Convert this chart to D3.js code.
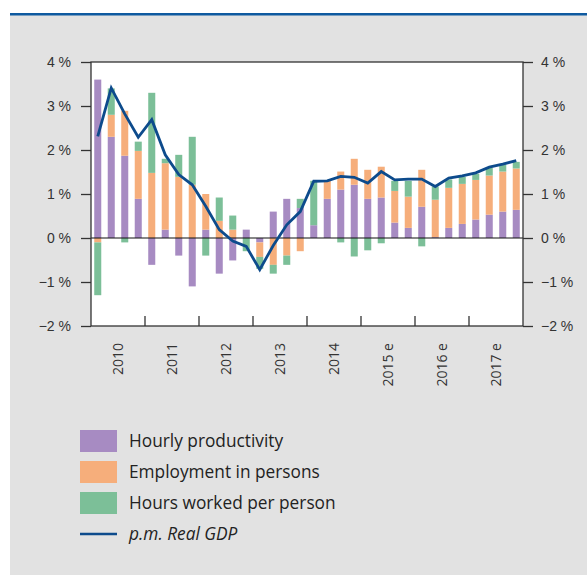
<!DOCTYPE html>
<html>
<head>
<meta charset="utf-8">
<script src="https://cdn.jsdelivr.net/npm/d3@7"></script>
<style>
  body { margin: 0; background: #fff; }
  svg { display: block; font-family: "Open Sans", "Noto Sans", sans-serif; }
</style>
</head>
<body>
<script>
// quarterly data 2010 Q1 .. 2017 Q4 (percentage points)
var years = ["2010", "2011", "2012", "2013", "2014", "2015 e", "2016 e", "2017 e"];
var quarters = [];
years.forEach(function(y) { for (var q = 1; q <= 4; q++) quarters.push(y + " Q" + q); });

var productivity = [3.6, 2.3, 1.87, 0.89, -0.61, 0.19, -0.4, -1.1, 0.19, -0.81, -0.51, 0.19,
  -0.1, 0.6, 0.89, 0.68, 0.29, 0.89, 1.1, 1.21, 0.89, 0.92, 0.35, 0.23,
  0.71, 0.02, 0.23, 0.32, 0.42, 0.53, 0.6, 0.64];
var employment = [-0.1, 0.5, 1.02, 1.09, 1.48, 1.51, 1.39, 1.21, 0.81, 0.39, 0.19, 0,
  -0.33, -0.61, -0.4, -0.3, 0, 0.41, 0.41, 0.59, 0.66, 0.7, 0.72, 0.71,
  0.84, 0.85, 0.91, 0.91, 0.9, 0.89, 0.91, 0.94];
var hours = [-1.2, 0.6, -0.1, 0.21, 1.82, 0.1, 0.5, 1.09, -0.4, 0.53, 0.32, -0.3,
  -0.27, -0.2, -0.21, 0.21, 1.01, 0, -0.1, -0.42, -0.28, -0.12, 0.23, 0.36,
  -0.19, 0.3, 0.19, 0.16, 0.14, 0.18, 0.16, 0.15];
var realGdp = [2.31, 3.41, 2.82, 2.29, 2.69, 1.89, 1.44, 1.21, 0.72, 0.19, -0.07, -0.19,
  -0.72, -0.17, 0.3, 0.6, 1.29, 1.3, 1.4, 1.38, 1.25, 1.51, 1.32, 1.34,
  1.34, 1.17, 1.36, 1.41, 1.48, 1.61, 1.68, 1.76];

var yTicks = [4, 3, 2, 1, 0, -1, -2];
var seriesNames = ["Hourly productivity", "Employment in persons", "Hours worked per person"];
var seriesColors = ["#a78bc2", "#f6ae7b", "#7cbf98"];
var lineName = "p.m. Real GDP";
var lineColor = "#0d4b8c";

var width = 587, height = 575;
var svg = d3.select("body").append("svg")
  .attr("width", width)
  .attr("height", height);

// panel
svg.append("rect").attr("x", 10).attr("y", 15).attr("width", width - 10).attr("height", height - 15).attr("fill", "#e2e2e2");
svg.append("rect").attr("x", 10).attr("y", 13).attr("width", width - 10).attr("height", 2.5).attr("fill", "#0f5aa0");

var plot = { left: 91, right: 523, top: 62, bottom: 326 };

var x = d3.scaleBand()
  .domain(quarters)
  .range([plot.left, plot.right])
  .paddingInner(0.48)
  .paddingOuter(0.24);

var y = d3.scaleLinear()
  .domain([-2, 4])
  .range([plot.bottom, plot.top]);

svg.append("rect")
  .attr("x", plot.left).attr("y", plot.top)
  .attr("width", plot.right - plot.left).attr("height", plot.bottom - plot.top)
  .attr("fill", "#fff");

// stacked bars
var table = quarters.map(function(q, i) {
  return { q: q, a: productivity[i], b: employment[i], c: hours[i] };
});
var stack = d3.stack().keys(["a", "b", "c"]).offset(d3.stackOffsetDiverging);
var layers = stack(table);

svg.append("g").selectAll("g")
  .data(layers)
  .enter().append("g")
  .attr("fill", function(d, i) { return seriesColors[i]; })
  .selectAll("rect")
  .data(function(d) { return d; })
  .enter().append("rect")
  .attr("x", function(d) { return x(d.data.q); })
  .attr("width", x.bandwidth())
  .attr("y", function(d) { return y(Math.max(d[0], d[1])); })
  .attr("height", function(d) { return Math.abs(y(d[0]) - y(d[1])); });

// zero line
svg.append("line")
  .attr("x1", plot.left).attr("x2", plot.right)
  .attr("y1", y(0)).attr("y2", y(0))
  .attr("stroke", "#111").attr("stroke-width", 1.2);

// GDP line
var line = d3.line()
  .x(function(d, i) { return x(quarters[i]) + x.bandwidth() / 2; })
  .y(function(d) { return y(d); });

svg.append("path")
  .datum(realGdp)
  .attr("d", line)
  .attr("fill", "none")
  .attr("stroke", lineColor)
  .attr("stroke-width", 2.8)
  .attr("stroke-linejoin", "miter");

// frame
svg.append("rect")
  .attr("x", plot.left).attr("y", plot.top)
  .attr("width", plot.right - plot.left).attr("height", plot.bottom - plot.top)
  .attr("fill", "none").attr("stroke", "#333").attr("stroke-width", 1.3);

function pct(d) { return (d < 0 ? "\u2212" + Math.abs(d) : d) + " %"; }

var yLeft = d3.axisLeft(y).tickValues(yTicks).tickSize(10).tickPadding(10).tickFormat(pct);
var yRight = d3.axisRight(y).tickValues(yTicks).tickSize(10).tickPadding(8).tickFormat(pct);

function styleAxis(g) {
  g.select(".domain").remove();
  g.selectAll(".tick line").attr("stroke", "#333").attr("stroke-width", 1.3);
  g.selectAll(".tick text").attr("fill", "#333").style("font-size", "14px");
}

svg.append("g").attr("transform", "translate(" + plot.left + ",0)").call(yLeft).call(styleAxis);
svg.append("g").attr("transform", "translate(" + plot.right + ",0)").call(yRight).call(styleAxis);

// year boundaries and labels
var yearScale = d3.scaleBand().domain(years).range([plot.left, plot.right]);
var xg = svg.append("g");
xg.selectAll("line")
  .data(years.slice(1))
  .enter().append("line")
  .attr("x1", function(d) { return yearScale(d); })
  .attr("x2", function(d) { return yearScale(d); })
  .attr("y1", plot.bottom - 10).attr("y2", plot.bottom)
  .attr("stroke", "#333").attr("stroke-width", 1.3);

xg.selectAll("text")
  .data(years)
  .enter().append("text")
  .attr("transform", function(d) {
    return "translate(" + (yearScale(d) + yearScale.bandwidth() / 2 + 5) + "," + (plot.bottom + 17) + ") rotate(-90)";
  })
  .attr("text-anchor", "end")
  .attr("fill", "#333")
  .style("font-size", "14px")
  .text(function(d) { return d; });

// legend
var legend = svg.append("g").attr("transform", "translate(80,430)");
seriesNames.forEach(function(name, i) {
  legend.append("rect").attr("x", 0).attr("y", i * 31).attr("width", 37).attr("height", 22).attr("fill", seriesColors[i]);
  legend.append("text").attr("x", 49).attr("y", i * 31 + 17).attr("fill", "#222").style("font-size", "17.3px").text(name);
});
legend.append("line").attr("x1", 0).attr("x2", 37).attr("y1", 104).attr("y2", 104)
  .attr("stroke", lineColor).attr("stroke-width", 2.5);
legend.append("text").attr("x", 49).attr("y", 110).attr("fill", "#222")
  .style("font-size", "17.3px").style("font-style", "italic").text(lineName);
</script>
</body>
</html>
